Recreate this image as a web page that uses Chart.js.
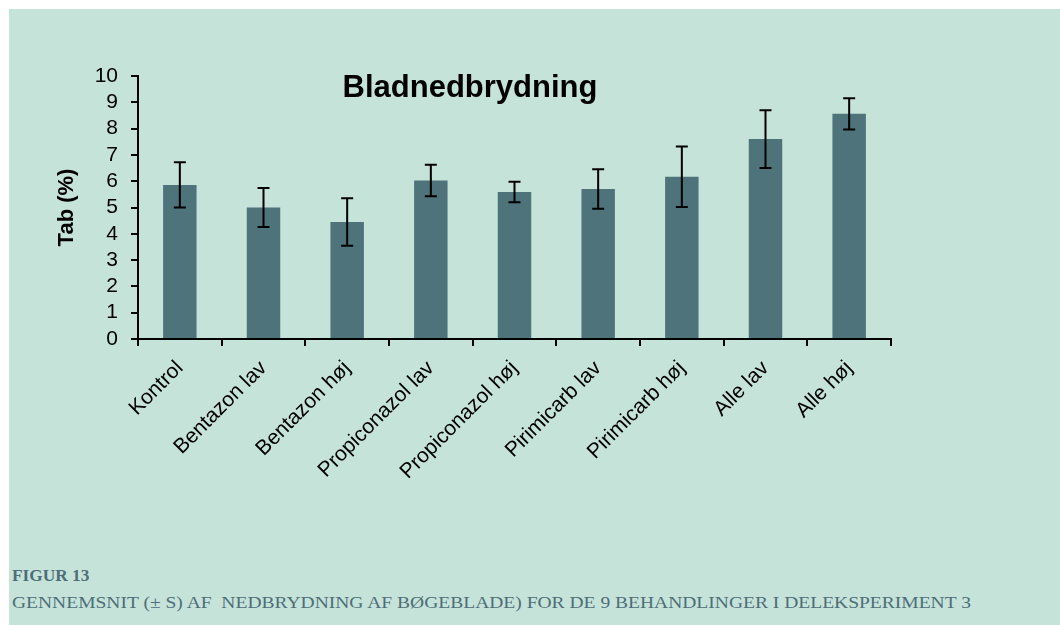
<!DOCTYPE html>
<html>
<head>
<meta charset="utf-8">
<script src="https://cdn.jsdelivr.net/npm/chart.js@4.4.1/dist/chart.umd.min.js"></script>
<style>
  html, body { margin: 0; padding: 0; background: #ffffff; }
  body { width: 1060px; height: 625px; position: relative; overflow: hidden; }
  .panel { position: absolute; left: 9px; top: 9px; right: 0; bottom: 0; background: #c6e3da; }
  .wrap { position: absolute; left: 0; top: 0; width: 1060px; height: 540px; }
  .chart-title {
    position: absolute; left: 0; width: 940px; top: 69px; text-align: center;
    font: bold 31px 'Liberation Sans', Arial, sans-serif; color: #000;
  }
  .cap-head {
    position: absolute; left: 12px; top: 567px; transform-origin: left top; transform: scaleX(1.08);
    font: bold 16px 'Liberation Serif', Georgia, serif; color: #4d6e77;
  }
  .cap-text {
    position: absolute; left: 12px; top: 594px; transform-origin: left top; transform: scaleX(1.22);
    font: 16px 'Liberation Serif', Georgia, serif; color: #4d6e77; white-space: pre;
  }
</style>
</head>
<body>
<div class="panel"></div>
<div class="wrap"><canvas id="chart"></canvas></div>
<div class="chart-title">Bladnedbrydning</div>
<div class="cap-head">FIGUR 13</div>
<div class="cap-text">GENNEMSNIT (± S) AF  NEDBRYDNING AF BØGEBLADE) FOR DE 9 BEHANDLINGER I DELEKSPERIMENT 3</div>
<script>
(function () {
    'use strict';

    // Treatments and mean leaf loss (%) with standard deviation.
    var treatments = ['Kontrol', 'Bentazon lav', 'Bentazon høj', 'Propiconazol lav', 'Propiconazol høj',
        'Pirimicarb lav', 'Pirimicarb høj', 'Alle lav', 'Alle høj'];
    var meanLoss = [5.86, 5.0, 4.45, 6.03, 5.59, 5.7, 6.17, 7.6, 8.56];
    var sdLoss = [0.86, 0.74, 0.9, 0.6, 0.39, 0.75, 1.15, 1.1, 0.59];
    var yTicks = [0, 1, 2, 3, 4, 5, 6, 7, 8, 9, 10];

    var BAR = '#4e737a';
    var INK = '#000000';

    Chart.defaults.font.family = "'Liberation Sans', Arial, sans-serif";
    Chart.defaults.color = INK;

    // Draws the ± s whiskers on top of each bar, through the y scale.
    var errorBars = {
        id: 'errorBars',
        afterDatasetsDraw: function (chart) {
            var ctx = chart.ctx;
            var y = chart.scales.y;
            var meta = chart.getDatasetMeta(0);
            ctx.save();
            ctx.strokeStyle = INK;
            ctx.lineWidth = 2;
            meta.data.forEach(function (bar, i) {
                var top = y.getPixelForValue(meanLoss[i] + sdLoss[i]);
                var bot = y.getPixelForValue(meanLoss[i] - sdLoss[i]);
                var half = 6;
                ctx.beginPath();
                ctx.moveTo(bar.x, top);
                ctx.lineTo(bar.x, bot);
                ctx.moveTo(bar.x - half, top);
                ctx.lineTo(bar.x + half, top);
                ctx.moveTo(bar.x - half, bot);
                ctx.lineTo(bar.x + half, bot);
                ctx.stroke();
            });
            ctx.restore();
        }
    };

    new Chart(document.getElementById('chart').getContext('2d'), {
        type: 'bar',
        data: {
            labels: treatments,
            datasets: [{
                label: 'Tab (%)',
                data: meanLoss,
                backgroundColor: BAR,
                borderWidth: 0,
                barPercentage: 0.4,
                categoryPercentage: 1.0
            }]
        },
        options: {
            responsive: true,
            maintainAspectRatio: false,
            animation: false,
            layout: { padding: { left: 50, top: 76, right: 169, bottom: 51 } },
            plugins: {
                legend: { display: false },
                tooltip: { enabled: false }
            },
            scales: {
                x: {
                    grid: { display: true, drawOnChartArea: false, drawTicks: true, tickLength: 7, color: INK, lineWidth: 2, offset: true },
                    border: { display: true, color: INK, width: 2 },
                    ticks: { color: INK, font: { size: 21 }, maxRotation: 45, minRotation: 45, autoSkip: false, padding: 10 },
                    afterFit: function (scale) { scale.height = 150; }
                },
                y: {
                    min: 0,
                    max: 10,
                    afterBuildTicks: function (scale) {
                        scale.ticks = yTicks.map(function (v) { return { value: v }; });
                    },
                    grid: { display: true, drawOnChartArea: false, drawTicks: true, tickLength: 7, color: INK, lineWidth: 2 },
                    border: { display: true, color: INK, width: 2 },
                    ticks: { color: INK, font: { size: 21 }, padding: 13, autoSkip: false },
                    title: { display: true, text: 'Tab (%)', color: INK, font: { size: 22, weight: 'bold' }, padding: { top: 4, bottom: 0 } },
                    afterFit: function (scale) { scale.width = 88; }
                }
            }
        },
        plugins: [errorBars]
    });
})();
</script>
</body>
</html>
